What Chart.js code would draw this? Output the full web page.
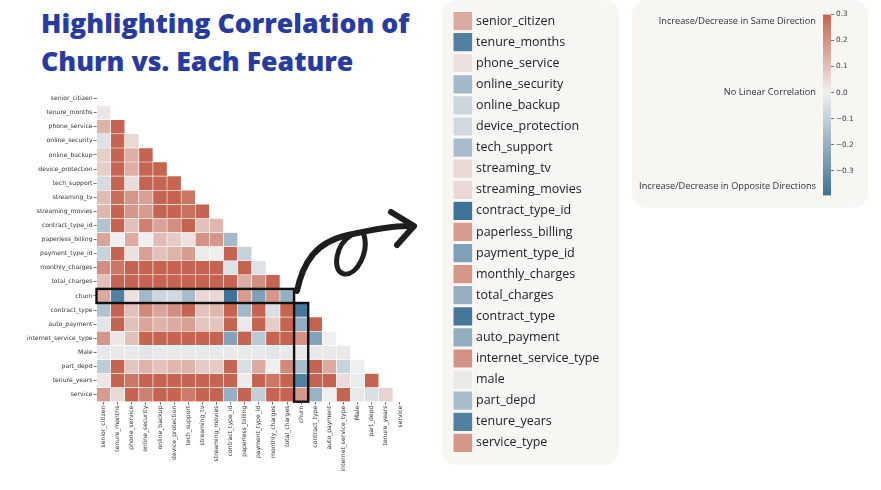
<!DOCTYPE html>
<html>
<head>
<meta charset="utf-8">
<script src="https://cdn.jsdelivr.net/npm/chart.js@4.4.1/dist/chart.umd.min.js"></script>
<style>
  body { margin: 0; background: #fff; width: 881px; height: 490px; overflow: hidden; position: relative; font-family: 'Open Sans', sans-serif; }
  #title { position: absolute; left: 41px; top: 4px; color: #283c9f; font-weight: 800; font-size: 26.7px; line-height: 38px; white-space: nowrap; }
  .panel { position: absolute; background: #f7f6f3; border-radius: 15px; }
  canvas { position: absolute; }
  svg { position: absolute; left: 0; top: 0; }
</style>
</head>
<body>
<div id="title">Highlighting Correlation of<br>Churn vs. Each Feature</div>
<div class="panel" style="left:442px;top:0px;width:177px;height:465px"></div>
<div class="panel" style="left:632px;top:0px;width:236px;height:208px"></div>
<canvas id="heat" width="425" height="410" style="left:0;top:80px"></canvas>
<canvas id="legendChart" width="170" height="465" style="left:446px;top:0"></canvas>
<canvas id="cbar" width="236" height="206" style="left:632px;top:2px"></canvas>
<svg width="881" height="490">
  <g fill="none" stroke="#1e1e1e" stroke-linecap="round" stroke-linejoin="round">
    <path d="M297,291 C303,262 316,242 348,235 C374,229 395,225 413,226" stroke-width="6"/>
    <path d="M350,236 C335,246 332,272 344,274 C357,276 369,252 364,235" stroke-width="5"/>
    <path d="M391,212 L414,226 L397,245" stroke-width="6"/>
  </g>
</svg>
<script>
/* feature order of the correlation matrix */
var features = ['senior_citizen', 'tenure_months', 'phone_service', 'online_security', 'online_backup',
  'device_protection', 'tech_support', 'streaming_tv', 'streaming_movies', 'contract_type_id',
  'paperless_billing', 'payment_type_id', 'monthly_charges', 'total_charges', 'churn',
  'contract_type', 'auto_payment', 'internet_service_type', 'Male', 'part_depd', 'tenure_years', 'service'];

/* lower triangle, row r holds correlations with columns 0..r-1 */
var corrRows = [
  [],
  [0.02],
  [0.13, 0.36],
  [-0.04, 0.33, 0.05],
  [0.07, 0.36, 0.14, 0.45],
  [0.07, 0.36, 0.14, 0.44, 0.47],
  [-0.06, 0.33, 0.04, 0.52, 0.46, 0.51],
  [0.11, 0.28, 0.19, 0.17, 0.42, 0.47, 0.26],
  [0.12, 0.30, 0.19, 0.18, 0.42, 0.48, 0.27, 0.53],
  [-0.14, 0.67, 0.10, 0.24, 0.16, 0.21, 0.30, 0.10, 0.12],
  [0.16, 0.00, 0.15, 0.00, 0.11, 0.08, 0.03, 0.20, 0.19, -0.17],
  [-0.09, 0.34, 0.03, 0.17, 0.10, 0.13, 0.18, -0.01, 0.00, 0.33, -0.09],
  [0.21, 0.26, 0.48, 0.34, 0.44, 0.48, 0.34, 0.63, 0.63, -0.04, 0.35, -0.04],
  [0.10, 0.83, 0.36, 0.41, 0.51, 0.52, 0.43, 0.51, 0.52, 0.45, 0.14, 0.21, 0.65],
  [0.15, -0.35, 0.03, -0.17, -0.08, -0.07, -0.16, 0.05, 0.05, -0.39, 0.18, -0.25, 0.19, -0.20],
  [-0.14, 0.67, 0.10, 0.22, 0.16, 0.21, 0.30, 0.10, 0.12, 0.96, -0.17, 0.34, -0.05, 0.45, -0.38],
  [-0.03, 0.34, 0.10, 0.16, 0.13, 0.15, 0.17, 0.09, 0.09, 0.32, -0.02, 0.85, 0.07, 0.36, -0.21, 0.33],
  [0.19, 0.02, 0.10, 0.39, 0.44, 0.45, 0.37, 0.41, 0.42, -0.24, 0.32, -0.12, 0.79, 0.36, 0.20, -0.24, 0.00],
  [-0.02, -0.02, -0.02, -0.03, -0.02, -0.02, -0.02, -0.02, -0.02, -0.02, -0.02, -0.02, -0.03, -0.02, -0.02, -0.02, -0.02, -0.02],
  [-0.11, 0.32, 0.09, 0.13, 0.10, 0.12, 0.13, 0.08, 0.08, 0.31, -0.05, 0.15, 0.00, 0.22, -0.16, 0.31, 0.15, -0.09, 0.00],
  [0.02, 0.97, 0.26, 0.32, 0.36, 0.36, 0.32, 0.31, 0.31, 0.66, 0.01, 0.33, 0.26, 0.81, -0.35, 0.66, 0.33, 0.04, -0.01, 0.31],
  [0.18, 0.05, 0.38, 0.24, 0.38, 0.39, 0.25, 0.41, 0.41, -0.20, 0.31, -0.10, 0.81, 0.39, 0.19, -0.19, 0.00, 0.67, -0.02, -0.05, 0.06]
];

/* legend names for every feature except churn */
var legendLabels = ['senior_citizen', 'tenure_months', 'phone_service', 'online_security', 'online_backup',
  'device_protection', 'tech_support', 'streaming_tv', 'streaming_movies', 'contract_type_id',
  'paperless_billing', 'payment_type_id', 'monthly_charges', 'total_charges', 'contract_type',
  'auto_payment', 'internet_service_type', 'male', 'part_depd', 'tenure_years', 'service_type'];

/* colour bar range and ticks */
var cbarMin = -0.395;
var cbarMax = 0.3;
var cbarTicks = [0.3, 0.2, 0.1, 0.0, -0.1, -0.2, -0.3];
var cbarNotes = [0.275, 0.0, -0.36];
var cbarNoteText = ['Increase/Decrease in Same Direction', 'No Linear Correlation', 'Increase/Decrease in Opposite Directions'];

var NEG = [62, 114, 149];
var MID = [240, 239, 239];
var POS = [197, 100, 80];

function corrColor(v) {
  var end, t;
  if (v >= 0) { end = POS; t = Math.min(v / cbarMax, 1); }
  else { end = NEG; t = Math.min(v / cbarMin, 1); }
  var c = MID.map(function(m, i) { return Math.round(m + (end[i] - m) * t); });
  return 'rgb(' + c.join(',') + ')';
}

var churnIdx = features.indexOf('churn');
var churnCorr = [];
features.forEach(function(f, i) {
  if (i < churnIdx) churnCorr.push(corrRows[churnIdx][i]);
  else if (i > churnIdx) churnCorr.push(corrRows[i][churnIdx]);
});

var TICK_FONT = { family: 'DejaVu Sans', size: 6.1 };

/* --- heatmap --- */
var highlightBoxes = {
  id: 'highlightBoxes',
  afterDatasetsDraw: function(chart) {
    var x = chart.scales.x, y = chart.scales.y, ctx = chart.ctx;
    var half = (x.getPixelForValue(1) - x.getPixelForValue(0)) / 2;
    var x0 = x.getPixelForValue(0) - half;
    var xk = x.getPixelForValue(churnIdx) - half;
    var xk1 = x.getPixelForValue(churnIdx) + half;
    var yTop = y.getPixelForValue(churnIdx - 0.5);
    var yMid = y.getPixelForValue(churnIdx + 0.5);
    var yBot = y.getPixelForValue(features.length - 0.5);
    ctx.save();
    ctx.strokeStyle = '#111';
    ctx.lineWidth = 2.4;
    ctx.strokeRect(x0, yTop, xk - x0, yMid - yTop);
    ctx.strokeRect(xk, yMid, xk1 - xk, yBot - yMid);
    ctx.restore();
  }
};

var heatDatasets = corrRows.map(function(row, r) {
  return {
    data: features.map(function(_, c) { return c < r ? [r - 0.5, r + 0.5] : null; }),
    backgroundColor: features.map(function(_, c) { return c < r ? corrColor(row[c]) : 'rgba(0,0,0,0)'; }),
    borderColor: '#ffffff',
    borderWidth: 0.6,
    borderSkipped: false,
    grouped: false,
    barPercentage: 1,
    categoryPercentage: 1
  };
});

new Chart(document.getElementById('heat'), {
  type: 'bar',
  data: { labels: features, datasets: heatDatasets },
  plugins: [highlightBoxes],
  options: {
    responsive: false,
    animation: false,
    layout: { padding: { top: 11.5, right: 18, left: 0, bottom: 0 } },
    plugins: { legend: { display: false }, tooltip: { enabled: false } },
    scales: {
      x: {
        type: 'category',
        offset: true,
        grid: { display: true, offset: false, drawOnChartArea: false, tickLength: 3, color: '#777' },
        border: { display: false },
        ticks: { autoSkip: false, maxRotation: 90, minRotation: 90, padding: 1, font: TICK_FONT, color: '#333' },
        afterFit: function(s) { s.height = 88.3; }
      },
      y: {
        type: 'linear',
        reverse: true,
        min: -0.5,
        max: features.length - 0.5,
        grid: { display: true, drawOnChartArea: false, tickLength: 3, color: '#777' },
        border: { display: false },
        afterBuildTicks: function(s) { s.ticks = features.map(function(_, i) { return { value: i }; }); },
        ticks: { autoSkip: false, padding: 1, font: TICK_FONT, color: '#333',
          callback: function(v) { return features[v]; } },
        afterFit: function(s) { s.width = 96.5; }
      }
    }
  }
});

/* --- churn legend list --- */
new Chart(document.getElementById('legendChart'), {
  type: 'bar',
  data: {
    labels: legendLabels,
    datasets: [{
      data: legendLabels.map(function() { return [0, 1]; }),
      backgroundColor: churnCorr.map(corrColor),
      borderColor: '#ffffff',
      borderWidth: 0.8,
      borderSkipped: false,
      barPercentage: 0.94,
      categoryPercentage: 1
    }]
  },
  options: {
    indexAxis: 'y',
    responsive: false,
    animation: false,
    layout: { padding: { top: 6.7, left: 6.7, right: 0, bottom: 11.6 } },
    plugins: { legend: { display: false }, tooltip: { enabled: false } },
    scales: {
      x: { display: false, min: 0, max: 1 },
      y: {
        position: 'right',
        grid: { display: false, drawTicks: false },
        border: { display: false },
        ticks: { autoSkip: false, padding: 3, font: { family: 'Open Sans', size: 12.5 }, color: '#222' },
        afterFit: function(s) { s.width = 143; }
      }
    }
  }
});

/* --- colour bar --- */
new Chart(document.getElementById('cbar'), {
  type: 'bar',
  data: {
    labels: [''],
    datasets: [{
      data: [[cbarMin, cbarMax]],
      backgroundColor: function(ctx) {
        var ch = ctx.chart;
        if (!ch.chartArea) return null;
        var y = ch.scales.y;
        var g = ch.ctx.createLinearGradient(0, y.getPixelForValue(cbarMin), 0, y.getPixelForValue(cbarMax));
        g.addColorStop(0, corrColor(cbarMin));
        g.addColorStop((0 - cbarMin) / (cbarMax - cbarMin), corrColor(0));
        g.addColorStop(1, corrColor(cbarMax));
        return g;
      },
      borderWidth: 0,
      barPercentage: 1,
      categoryPercentage: 1
    }]
  },
  options: {
    responsive: false,
    animation: false,
    layout: { padding: { top: 12.3, bottom: 12.3, left: 0, right: 0 } },
    plugins: { legend: { display: false }, tooltip: { enabled: false } },
    scales: {
      x: { display: false },
      y: {
        position: 'right',
        min: cbarMin,
        max: cbarMax,
        grid: { display: true, drawOnChartArea: false, tickLength: 3, color: '#777' },
        border: { display: false },
        afterBuildTicks: function(s) { s.ticks = cbarTicks.map(function(v) { return { value: v }; }); },
        ticks: { padding: 2, font: { family: 'DejaVu Sans', size: 7.3 }, color: '#444',
          callback: function(v) { return v.toFixed(1).replace('-', '\u2212'); } },
        afterFit: function(s) { s.width = 37; }
      },
      yNote: {
        position: 'left',
        min: cbarMin,
        max: cbarMax,
        grid: { display: false, drawTicks: false },
        border: { display: false },
        afterBuildTicks: function(s) { s.ticks = cbarNotes.map(function(v) { return { value: v }; }); },
        ticks: { padding: 7, font: { family: 'Open Sans', size: 9.2 }, color: '#333',
          callback: function(v) { return cbarNoteText[cbarNotes.indexOf(v)]; } },
        afterFit: function(s) { s.width = 191; }
      }
    }
  }
});
</script>
</body>
</html>
